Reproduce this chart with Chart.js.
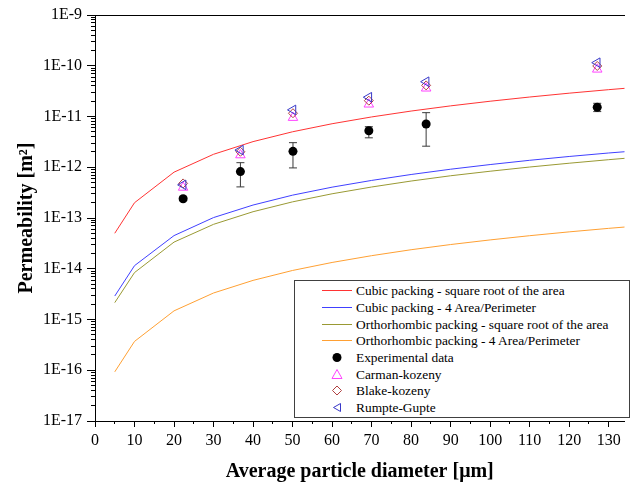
<!DOCTYPE html>
<html><head><meta charset="utf-8">
<script src="https://cdn.jsdelivr.net/npm/chart.js@4.4.1/dist/chart.umd.min.js"></script>
<style>
html,body{margin:0;padding:0;background:#fff;}
#wrap{position:relative;width:631px;height:489px;}
#legend{position:absolute;left:294px;top:280px;width:334px;height:136px;border:1px solid #404040;background:#fff;font-family:'Liberation Serif','Times New Roman',serif;font-size:13.4px;color:#000;}
.row{position:absolute;left:0;height:17px;line-height:17px;display:flex;align-items:center;white-space:nowrap;}
.row svg{margin-left:27px;margin-right:4px;flex:none;}
</style></head><body>
<div id="wrap"><canvas id="c" width="631" height="489"></canvas><div id="legend"></div></div>
<script>
// ---- data ----
const diameters = [5, 10, 20, 30, 40, 50, 60, 70, 80, 90, 100, 110, 120, 130, 140];
const cubicSqrtArea = [5.0e-14, 2.0e-13, 8.0e-13, 1.8e-12, 3.2e-12, 5.0e-12, 7.2e-12, 9.8e-12, 1.28e-11, 1.62e-11, 2.0e-11, 2.42e-11, 2.88e-11, 3.38e-11, 3.92e-11];
const cubic4AreaPerim = [2.9e-15, 1.15e-14, 4.5e-14, 1.02e-13, 1.8e-13, 2.82e-13, 4.05e-13, 5.5e-13, 7.2e-13, 9.15e-13, 1.13e-12, 1.37e-12, 1.63e-12, 1.91e-12, 2.2e-12];
const orthoSqrtArea = [2.15e-15, 8.4e-15, 3.35e-14, 7.5e-14, 1.33e-13, 2.08e-13, 3.0e-13, 4.08e-13, 5.35e-13, 6.8e-13, 8.35e-13, 1.01e-12, 1.2e-12, 1.41e-12, 1.64e-12];
const ortho4AreaPerim = [9.3e-17, 3.7e-16, 1.48e-15, 3.33e-15, 5.9e-15, 9.25e-15, 1.33e-14, 1.81e-14, 2.37e-14, 3.0e-14, 3.7e-14, 4.48e-14, 5.33e-14, 6.25e-14, 7.25e-14];

const expDiameter = [22.3, 36.8, 50.1, 69.3, 83.8, 127.1];
const expPerm = [2.4e-13, 8.2e-13, 2.06e-12, 5.25e-12, 7.1e-12, 1.52e-11];
const expLow = [2.2e-13, 4.1e-13, 9.7e-13, 3.8e-12, 2.6e-12, 1.25e-11];
const expHigh = [2.6e-13, 1.23e-12, 3.05e-12, 6.3e-12, 1.19e-11, 1.82e-11];
const carmanKozeny = [4.0e-13, 1.74e-12, 9.5e-12, 1.74e-11, 3.6e-11, 8.5e-11];
const blakeKozeny = [4.8e-13, 2.02e-12, 1.16e-11, 2.05e-11, 4.1e-11, 9.9e-11];
const rumpteGupte = [4.5e-13, 2.18e-12, 1.35e-11, 2.4e-11, 4.85e-11, 1.15e-10];

const xTickValues = [0, 10, 20, 30, 40, 50, 60, 70, 80, 90, 100, 110, 120, 130];
const xMinorTickValues = [5, 15, 25, 35, 45, 55, 65, 75, 85, 95, 105, 115, 125];
const yTickValues = [1e-17, 1e-16, 1e-15, 1e-14, 1e-13, 1e-12, 1e-11, 1e-10, 1e-9];
const yTickLabels = ['1E-17', '1E-16', '1E-15', '1E-14', '1E-13', '1E-12', '1E-11', '1E-10', '1E-9'];

const seriesNames = ['Cubic packing - square root of the area', 'Cubic packing - 4 Area/Perimeter',
  'Orthorhombic packing - square root of the area', 'Orthorhombic packing - 4 Area/Perimeter',
  'Experimental data', 'Carman-kozeny', 'Blake-kozeny', 'Rumpte-Gupte'];
const lineColors = ['#ff3333', '#4040ff', '#999933', '#ffa033'];
const markerColors = ['#000000', '#ff44ff', '#b04040', '#3838c8'];

// ---- build chart ----
const FONT = "'Liberation Serif', 'Times New Roman', serif";
Chart.defaults.font.family = FONT;
Chart.defaults.color = '#000';

const pts = (xs, ys) => xs.map((x, i) => ({x: x, y: ys[i]}));
const lineSeries = [cubicSqrtArea, cubic4AreaPerim, orthoSqrtArea, ortho4AreaPerim];
const datasets = [];
lineSeries.forEach((s, i) => datasets.push({
  label: seriesNames[i], data: pts(diameters, s), showLine: true, borderColor: lineColors[i],
  borderWidth: 1, pointRadius: 0, tension: 0, order: 20
}));
expDiameter.forEach((x, i) => datasets.push({
  label: '_err' + i, data: [{x: x, y: expLow[i]}, {x: x, y: expHigh[i]}], showLine: true,
  borderColor: '#3a3a3a', borderWidth: 1, pointStyle: 'line', pointRadius: 4,
  pointBorderColor: '#3a3a3a', pointBorderWidth: 1, order: 10
}));
datasets.push({label: seriesNames[4], data: pts(expDiameter, expPerm), pointStyle: 'circle', pointRadius: 4.5,
  pointBackgroundColor: markerColors[0], pointBorderColor: markerColors[0], pointBorderWidth: 0, order: 5});
datasets.push({label: seriesNames[5], data: pts(expDiameter, carmanKozeny), pointStyle: 'triangle', pointRadius: 5.5,
  pointBackgroundColor: 'rgba(0,0,0,0)', pointBorderColor: markerColors[1], pointBorderWidth: 1, order: 4});
datasets.push({label: seriesNames[6], data: pts(expDiameter, blakeKozeny), pointStyle: 'rectRot', pointRadius: 4.5,
  pointBackgroundColor: 'rgba(0,0,0,0)', pointBorderColor: markerColors[2], pointBorderWidth: 1, order: 3});
datasets.push({label: seriesNames[7], data: pts(expDiameter, rumpteGupte), pointStyle: 'triangle', pointRotation: -90, pointRadius: 5.5,
  pointBackgroundColor: 'rgba(0,0,0,0)', pointBorderColor: markerColors[3], pointBorderWidth: 1, order: 2});

const yMinorTicks = [];
yTickValues.slice(0, -1).forEach(v => { for (let k = 2; k <= 9; k++) yMinorTicks.push(v * k); });

const X_MIN = 0, X_MAX = 134, Y_MIN = 1e-17, Y_MAX = 1e-9;
new Chart(document.getElementById('c'), {
  type: 'scatter',
  data: {datasets: datasets},
  options: {
    responsive: false, animation: false, events: [],
    layout: {padding: {top: 15, right: 0, bottom: 0, left: 0}},
    plugins: {legend: {display: false}, tooltip: {enabled: false}},
    scales: {
      x: {type: 'linear', position: 'bottom', min: X_MIN, max: X_MAX, weight: 2,
        afterBuildTicks: s => { s.ticks = xTickValues.map(v => ({value: v})); },
        ticks: {autoSkip: false, maxRotation: 0, padding: 4, color: '#000', font: {size: 16, family: FONT}},
        grid: {drawOnChartArea: false, drawTicks: true, tickLength: 6, color: '#000', tickColor: '#000'},
        border: {display: true, color: '#000', width: 1},
        title: {display: true, text: 'Average particle diameter [μm]', color: '#000',
          font: {size: 20, weight: 'bold', family: FONT}, padding: {top: 0, bottom: 5}},
        afterFit: s => { s.height = 68; }
      },
      xMinor: {type: 'linear', position: 'bottom', min: X_MIN, max: X_MAX, weight: 0,
        afterBuildTicks: s => { s.ticks = xMinorTickValues.map(v => ({value: v})); },
        ticks: {display: false},
        grid: {drawOnChartArea: false, drawTicks: true, tickLength: 3, color: '#000', tickColor: '#000'},
        border: {display: false},
        afterFit: s => { s.height = 0; }
      },
      xTop: {type: 'linear', position: 'top', min: X_MIN, max: X_MAX,
        ticks: {display: false}, grid: {display: false, drawTicks: false},
        border: {display: true, color: '#000', width: 1},
        afterFit: s => { s.height = 0; }
      },
      y: {type: 'logarithmic', position: 'left', min: Y_MIN, max: Y_MAX, weight: 2,
        afterBuildTicks: s => { s.ticks = yTickValues.map(v => ({value: v})); },
        ticks: {autoSkip: false, padding: 5, color: '#000', font: {size: 16, family: FONT},
          callback: (v, i) => yTickLabels[i]},
        grid: {drawOnChartArea: false, drawTicks: true, tickLength: 8, color: '#000', tickColor: '#000'},
        border: {display: true, color: '#000', width: 1},
        title: {display: true, text: 'Permeability [m²]', color: '#000',
          font: {size: 20, weight: 'bold', family: FONT}, padding: {top: 15, bottom: 0}},
        afterFit: s => { s.width = 95; }
      },
      yMinor: {type: 'logarithmic', position: 'left', min: Y_MIN, max: Y_MAX, weight: 0,
        afterBuildTicks: s => { s.ticks = yMinorTicks.map(v => ({value: v})); },
        ticks: {display: false},
        grid: {drawOnChartArea: false, drawTicks: true, tickLength: 4, color: '#000', tickColor: '#000'},
        border: {display: false},
        afterFit: s => { s.width = 0; }
      }
    }
  }
});

// ---- legend (HTML text) ----
const glyphs = [
  c => `<line x1="0" y1="8.5" x2="30" y2="8.5" stroke="${c}" stroke-width="1"/>`,
  c => `<line x1="0" y1="8.5" x2="30" y2="8.5" stroke="${c}" stroke-width="1"/>`,
  c => `<line x1="0" y1="8.5" x2="30" y2="8.5" stroke="${c}" stroke-width="1"/>`,
  c => `<line x1="0" y1="8.5" x2="30" y2="8.5" stroke="${c}" stroke-width="1"/>`,
  c => `<circle cx="15" cy="8.5" r="4.5" fill="${c}"/>`,
  c => `<polygon points="15,3.5 20,12.5 10,12.5" fill="none" stroke="${c}" stroke-width="1"/>`,
  c => `<polygon points="15,4 19.5,8.5 15,13 10.5,8.5" fill="none" stroke="${c}" stroke-width="1"/>`,
  c => `<polygon points="11.5,8.5 18.5,4.5 18.5,12.5" fill="none" stroke="${c}" stroke-width="1"/>`
];
const legendColors = lineColors.concat(markerColors);
const leg = document.getElementById('legend');
seriesNames.forEach((name, i) => {
  const row = document.createElement('div');
  row.className = 'row';
  const centerY = 290.7 + 16.7 * i;
  row.style.top = (centerY - 8.5 - 281) + 'px';
  row.innerHTML = `<svg width="30" height="17" viewBox="0 0 30 17">${glyphs[i](legendColors[i])}</svg><span>${name}</span>`;
  leg.appendChild(row);
});
</script>
</body></html>
